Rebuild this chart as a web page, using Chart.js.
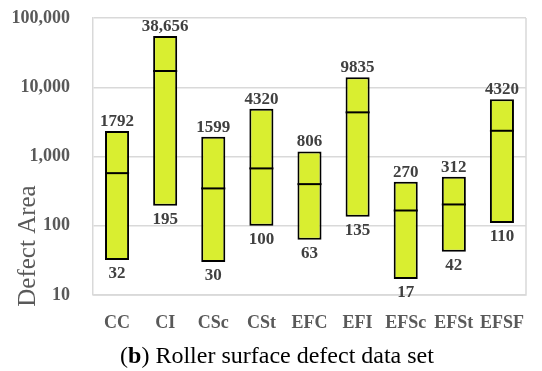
<!DOCTYPE html>
<html>
<head>
<meta charset="utf-8">
<script src="https://cdn.jsdelivr.net/npm/chart.js@4.4.0/dist/chart.umd.min.js"></script>
<style>
  html, body { margin: 0; padding: 0; background: #fff; }
  #wrap { position: relative; width: 542px; height: 371px; }
  #caption { position: absolute; left: 6px; width: 542px; top: 342px; text-align: center;
    font: 24px 'Liberation Serif', serif; color: #000; }
</style>
</head>
<body>
<div id="wrap">
  <canvas id="chart" width="542" height="371"></canvas>
  <div id="caption">(<b>b</b>) Roller surface defect data set</div>
</div>
<script>
const categories = ['CC', 'CI', 'CSc', 'CSt', 'EFC', 'EFI', 'EFSc', 'EFSt', 'EFSF'];
const boxLow = [32, 195, 30, 100, 63, 135, 17, 42, 110];
const boxHigh = [2330, 55000, 1926, 4900, 1185, 13900, 431, 509, 6685];
const medians = [575, 17150, 346, 673, 399, 4340, 166, 203, 2353];
const topLabels = ['1792', '38,656', '1599', '4320', '806', '9835', '270', '312', '4320'];
const bottomLabels = ['32', '195', '30', '100', '63', '135', '17', '42', '110'];
const yTicks = [10, 100, 1000, 10000, 100000];

const SERIF = "'Liberation Serif', serif";
const GREY = '#595959';

const extras = {
  id: 'extras',
  afterDatasetsDraw(chart) {
    const { ctx, chartArea: a, scales: { y } } = chart;
    const bars = chart.getDatasetMeta(0).data;
    ctx.save();
    // frame on the right side
    ctx.strokeStyle = '#d9d9d9';
    ctx.lineWidth = 1.5;
    ctx.beginPath();
    ctx.moveTo(a.right, a.top);
    ctx.lineTo(a.right, a.bottom);
    ctx.lineTo(a.left, a.bottom);
    ctx.stroke();

    bars.forEach((bar, i) => {
      const half = bar.width / 2;
      const my = y.getPixelForValue(medians[i]);
      ctx.strokeStyle = '#000';
      ctx.lineWidth = 2;
      ctx.beginPath();
      ctx.moveTo(bar.x - half, my);
      ctx.lineTo(bar.x + half, my);
      ctx.stroke();

      const top = Math.min(bar.y, bar.base);
      const bottom = Math.max(bar.y, bar.base);
      ctx.fillStyle = '#404040';
      ctx.font = 'bold 17px ' + SERIF;
      ctx.textAlign = 'center';
      ctx.textBaseline = 'bottom';
      ctx.fillText(topLabels[i], bar.x, top - 1);
      ctx.textBaseline = 'top';
      ctx.fillText(bottomLabels[i], bar.x, bottom + 5);
    });

    // y axis title
    ctx.translate(28, 246);
    ctx.rotate(-Math.PI / 2);
    ctx.fillStyle = GREY;
    ctx.font = '25px ' + SERIF;
    ctx.textAlign = 'center';
    ctx.textBaseline = 'middle';
    ctx.fillText('Defect Area', 0, 0);
    ctx.restore();
  }
};

new Chart(document.getElementById('chart'), {
  type: 'bar',
  data: {
    labels: categories,
    datasets: [{
      data: categories.map((c, i) => [boxLow[i], boxHigh[i]]),
      backgroundColor: '#d9ee30',
      borderColor: '#000',
      borderWidth: 2,
      borderSkipped: false,
      barPercentage: 0.5,
      categoryPercentage: 1
    }]
  },
  options: {
    responsive: false,
    animation: false,
    layout: { padding: { top: 18, right: 1, left: 0, bottom: 0 } },
    plugins: { legend: { display: false }, tooltip: { enabled: false } },
    scales: {
      x: {
        grid: { display: false, drawTicks: false },
        border: { display: false },
        ticks: { color: GREY, padding: 18, maxRotation: 0, autoSkip: false,
          font: { family: SERIF, size: 18, weight: 'bold' } },
        afterFit(s) { s.height = 76; }
      },
      y: {
        type: 'logarithmic',
        min: 10,
        max: 100000,
        afterBuildTicks(s) { s.ticks = yTicks.map(v => ({ value: v })); },
        grid: { color: '#d9d9d9', lineWidth: 1.5, drawTicks: false },
        border: { display: true, color: '#d9d9d9', width: 1.5 },
        ticks: {
          color: GREY,
          padding: 23,
          font: { family: SERIF, size: 18, weight: 'bold' },
          callback: v => Number(v).toLocaleString('en-US')
        },
        afterFit(s) { s.width = 93; s.paddingTop = 0; s.paddingBottom = 0; }
      }
    }
  },
  plugins: [extras]
});
</script>
</body>
</html>
